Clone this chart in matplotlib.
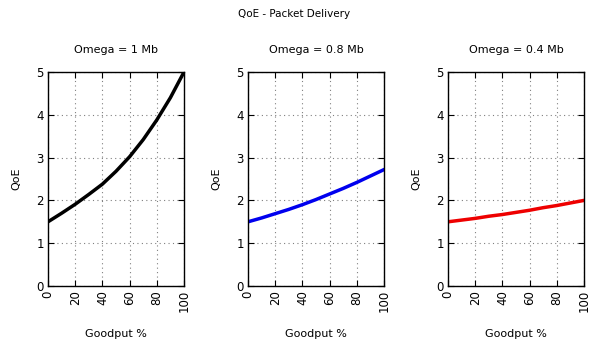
import matplotlib
matplotlib.use("Agg")
import matplotlib.pyplot as plt

goodput = [0, 10, 20, 30, 40, 50, 60, 70, 80, 90, 100]
qoe_1mb = [1.5, 1.70, 1.91, 2.14, 2.38, 2.68, 3.02, 3.42, 3.88, 4.40, 5.0]
qoe_08mb = [1.5, 1.59, 1.69, 1.79, 1.90, 2.02, 2.15, 2.28, 2.42, 2.57, 2.72]
qoe_04mb = [1.5, 1.54, 1.58, 1.63, 1.67, 1.72, 1.77, 1.83, 1.88, 1.94, 2.0]

titles = ["Omega = 1 Mb", "Omega = 0.8 Mb", "Omega = 0.4 Mb"]
series = [qoe_1mb, qoe_08mb, qoe_04mb]
colors = ["black", "#0000ee", "#ee0000"]

plt.rcParams['font.family'] = ['DejaVu Sans']
plt.rcParams['font.size'] = 8

fig = plt.figure(figsize=(5.89, 3.45), dpi=100)
fig.text(0.5, 0.958, "QoE - Packet Delivery", ha="center", va="center", fontsize=7.5)

lefts = [48, 248, 448]
for i in range(3):
    ax = fig.add_axes([lefts[i] / 589, 59 / 345, 136 / 589, 214 / 345])
    ax.plot(goodput, series[i], color=colors[i], lw=2.5)
    ax.set_xlim(0, 100)
    ax.set_ylim(0, 5)
    ax.set_xticks([0, 20, 40, 60, 80, 100])
    ax.set_yticks([0, 1, 2, 3, 4, 5])
    ax.tick_params(axis="x", labelrotation=90)
    ax.tick_params(direction="in", top=True, right=True, length=4, pad=3, labelsize=8.5)
    ax.grid(True, linestyle=(0, (1, 3)), color="#808080", lw=0.8)
    ax.set_title(titles[i], fontsize=8, pad=14)
    ax.set_xlabel("Goodput %", labelpad=12)
    ax.set_ylabel("QoE", labelpad=11)
    for s in ax.spines.values():
        s.set_linewidth(1.0)

fig.savefig("out.png", dpi=100)
